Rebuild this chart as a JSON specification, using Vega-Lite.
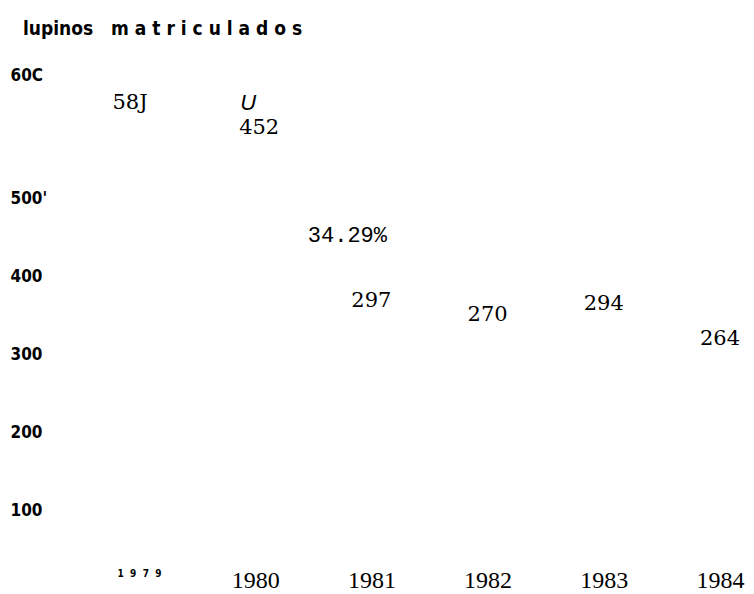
{
  "$schema": "https://vega.github.io/schema/vega-lite/v6.json",
  "width": 704,
  "height": 521,
  "autosize": {"type": "none"},
  "padding": {"left": 50, "top": 45, "right": 0, "bottom": 28},
  "background": "white",
  "title": {
    "text": "lupinos\u00a0\u00a0\u00a0m a t r i c u l a d o s",
    "anchor": "start",
    "frame": "group",
    "dx": -27,
    "dy": 21,
    "offset": 12,
    "baseline": "alphabetic",
    "font": "DejaVu Sans Condensed",
    "fontWeight": "bold",
    "fontSize": 19,
    "color": "black"
  },
  "datasets": {
    "bars": [
      {"year": "1979", "value": 581, "label": "58J"},
      {"year": "1980", "value": 452, "label": "452"},
      {"year": "1981", "value": 297, "label": "297"},
      {"year": "1982", "value": 270, "label": "270"},
      {"year": "1983", "value": 294, "label": "294"},
      {"year": "1984", "value": 264, "label": "264"}
    ],
    "notes": [
      {"year": "1980", "value": 452, "label": "U"},
      {"year": "1981", "value": 452, "label": "34.29%"}
    ]
  },
  "encoding": {
    "x": {
      "field": "year",
      "type": "ordinal",
      "scale": {"type": "point", "padding": 0, "domain": ["1979", "1980", "1981", "1982", "1983", "1984"], "range": [89, 670]},
      "axis": {
        "title": null,
        "domain": false,
        "ticks": false,
        "labelPadding": 2,
        "labelBaseline": "top",
        "labelAngle": 0,
        "labelExpr": "datum.value == '1979' ? '1\u00a0\u00a09\u00a0\u00a07\u00a0\u00a09' : datum.label",
        "labelFont": {"condition": {"test": "datum.value == '1979'", "value": "DejaVu Sans Condensed"}, "value": "Liberation Serif"},
        "labelFontWeight": {"condition": {"test": "datum.value == '1979'", "value": "bold"}, "value": "normal"},
        "labelFontSize": {"condition": {"test": "datum.value == '1979'", "value": 10}, "value": 24},
        "labelColor": "black"
      }
    },
    "y": {
      "field": "value",
      "type": "quantitative",
      "scale": {"domain": [0, 500, 600], "range": [543, 153, 30]},
      "axis": {
        "title": null,
        "domain": false,
        "ticks": false,
        "grid": false,
        "values": [100, 200, 300, 400, 500, 600],
        "labelAlign": "left",
        "labelPadding": 40,
        "labelExpr": "datum.value == 600 ? '60C' : datum.value == 500 ? \"500'\" : datum.label",
        "labelFont": "DejaVu Sans Condensed",
        "labelFontWeight": "bold",
        "labelFontSize": 17,
        "labelColor": "black"
      }
    },
    "text": {"field": "label", "type": "nominal"}
  },
  "layer": [
    {
      "data": {"name": "bars"},
      "transform": [{"filter": "datum.year == '1981' || datum.year == '1983'"}],
      "mark": {"type": "text", "dy": -55, "font": "DejaVu Serif", "fontSize": 21, "color": "black"}
    },
    {
      "data": {"name": "bars"},
      "transform": [{"filter": "datum.year == '1982'"}],
      "mark": {"type": "text", "dy": -62, "font": "DejaVu Serif", "fontSize": 21, "color": "black"}
    },
    {
      "data": {"name": "bars"},
      "transform": [{"filter": "datum.year == '1984'"}],
      "mark": {"type": "text", "dy": -43, "font": "DejaVu Serif", "fontSize": 21, "color": "black"}
    },
    {
      "data": {"name": "bars"},
      "transform": [{"filter": "datum.year == '1980'"}],
      "mark": {"type": "text", "dy": -107, "dx": 4, "font": "DejaVu Serif", "fontSize": 21, "color": "black"}
    },
    {
      "data": {"name": "bars"},
      "transform": [{"filter": "datum.year == '1979'"}],
      "mark": {"type": "text", "dy": 5, "dx": -9, "font": "DejaVu Serif", "fontSize": 21, "color": "black"}
    },
    {
      "data": {"name": "notes"},
      "transform": [{"filter": "datum.label == 'U'"}],
      "mark": {"type": "text", "dy": -132, "dx": -7, "font": "Liberation Sans", "fontStyle": "italic", "fontSize": 22, "color": "black"}
    },
    {
      "data": {"name": "notes"},
      "transform": [{"filter": "datum.label != 'U'"}],
      "mark": {"type": "text", "dy": 0, "dx": -24, "font": "Liberation Mono", "fontSize": 22, "color": "black"}
    }
  ],
  "config": {"view": {"stroke": null}}
}
